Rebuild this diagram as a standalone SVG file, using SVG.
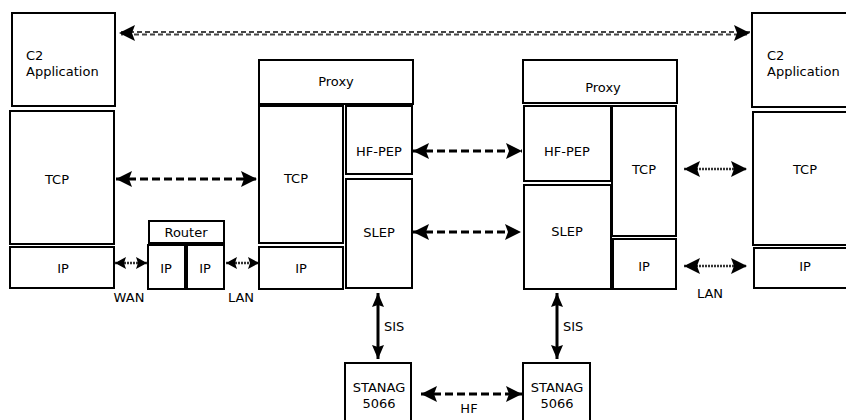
<svg xmlns="http://www.w3.org/2000/svg" width="846" height="420" viewBox="0 0 846 420">
<defs>
<style>
.box{fill:#fff;stroke:#000;stroke-width:2}
text{font-family:"DejaVu Sans","Verdana",sans-serif;font-size:13px;fill:#000}
.c{text-anchor:middle}
.dash{stroke:#000;stroke-width:3;stroke-dasharray:8 4;fill:none}
.dot{stroke:#333;stroke-width:2.5;stroke-dasharray:2 1;fill:none}
.solid{stroke:#000;stroke-width:3;fill:none}
</style>
<marker id="big" viewBox="0 0 16 16" refX="16" refY="8" markerWidth="16" markerHeight="16" markerUnits="userSpaceOnUse" orient="auto-start-reverse">
<path d="M0,0 L16,8 L0,16 L3,8 Z" fill="#000"/>
</marker>
<marker id="mid" viewBox="0 0 14 12" refX="14" refY="6" markerWidth="14" markerHeight="12" markerUnits="userSpaceOnUse" orient="auto-start-reverse">
<path d="M0,0 L14,6 L0,12 L2,6 Z" fill="#000"/>
</marker>
<marker id="small" viewBox="0 0 11 12" refX="11" refY="6" markerWidth="11" markerHeight="12" markerUnits="userSpaceOnUse" orient="auto-start-reverse">
<path d="M0,0 L11,6 L0,12 L2,6 Z" fill="#000"/>
</marker>
</defs>
<rect width="846" height="420" fill="#fff"/>

<g id="connectors">
<line x1="121" y1="32" x2="750" y2="32" stroke="#444" stroke-width="2" stroke-dasharray="5 3"/>
<line x1="121" y1="34.5" x2="750" y2="34.5" stroke="#444" stroke-width="2" stroke-dasharray="5 3" stroke-dashoffset="3"/>
<line x1="119" y1="33" x2="750" y2="33" stroke="none" marker-start="url(#big)" marker-end="url(#big)"/>
<line x1="116" y1="179" x2="257" y2="179" class="dash" marker-start="url(#big)" marker-end="url(#big)"/>
<line x1="413" y1="151" x2="522" y2="151" class="dash" stroke-dasharray="10 5" marker-start="url(#big)" marker-end="url(#big)"/>
<line x1="413" y1="232" x2="521" y2="232" class="dash" stroke-dasharray="10 5" marker-start="url(#big)" marker-end="url(#big)"/>
<line x1="115" y1="263" x2="147" y2="263" class="dot" marker-start="url(#small)" marker-end="url(#small)"/>
<line x1="226" y1="263" x2="259" y2="263" class="dot" marker-start="url(#small)" marker-end="url(#small)"/>
<line x1="684" y1="169" x2="747" y2="169" class="dot" marker-start="url(#big)" marker-end="url(#big)"/>
<line x1="684" y1="266" x2="747" y2="266" class="dot" marker-start="url(#big)" marker-end="url(#big)"/>
<line x1="378" y1="293" x2="378" y2="359" class="solid" marker-start="url(#mid)" marker-end="url(#mid)"/>
<line x1="557" y1="293" x2="557" y2="359" class="solid" marker-start="url(#mid)" marker-end="url(#mid)"/>
<line x1="421" y1="394" x2="522" y2="394" class="dash" stroke-dasharray="7 3" marker-start="url(#big)" marker-end="url(#big)"/>
</g>

<g id="c2-left"><rect class="box" x="12" y="13" width="103" height="93"/><text x="26" y="60">C2</text><text x="26" y="76">Application</text></g>
<g id="tcp-left"><rect class="box" x="10" y="111" width="104" height="133"/><text class="c" x="57" y="184">TCP</text></g>
<g id="ip-left"><rect class="box" x="10" y="247" width="104" height="41"/><text class="c" x="63" y="273">IP</text></g>

<g id="router"><rect class="box" x="149" y="221" width="75" height="22"/><text class="c" x="186" y="237">Router</text></g>
<g id="router-ip1"><rect class="box" x="148" y="245" width="37" height="44"/><text class="c" x="166" y="273">IP</text></g>
<g id="router-ip2"><rect class="box" x="187" y="245" width="37" height="44"/><text class="c" x="205" y="273">IP</text></g>
<g id="wan-label"><text class="c" x="129" y="302">WAN</text></g>
<g id="lan-label-left"><text class="c" x="241" y="302">LAN</text></g>

<g id="proxy-left"><rect class="box" x="259" y="60" width="154" height="44"/><text class="c" x="336" y="86">Proxy</text></g>
<g id="tcp-mid-left"><rect class="box" x="259" y="106" width="84" height="137"/><text class="c" x="296" y="183">TCP</text></g>
<g id="ip-mid-left"><rect class="box" x="259" y="247" width="84" height="42"/><text class="c" x="301" y="273">IP</text></g>
<g id="hfpep-left"><rect class="box" x="346" y="106" width="66" height="68"/><text class="c" x="379" y="156">HF-PEP</text></g>
<g id="slep-left"><rect class="box" x="346" y="179" width="66" height="109"/><text class="c" x="379" y="237">SLEP</text></g>

<g id="proxy-right"><rect class="box" x="523" y="60" width="154" height="43"/><text class="c" x="603" y="92">Proxy</text></g>
<g id="hfpep-right"><rect class="box" x="524" y="106" width="87" height="75"/><text class="c" x="567" y="156">HF-PEP</text></g>
<g id="slep-right"><rect class="box" x="524" y="185" width="87" height="104"/><text class="c" x="567" y="236">SLEP</text></g>
<g id="tcp-mid-right"><rect class="box" x="612" y="106" width="64" height="130"/><text class="c" x="644" y="174">TCP</text></g>
<g id="ip-mid-right"><rect class="box" x="613" y="239" width="63" height="50"/><text class="c" x="644" y="271">IP</text></g>
<g id="lan-label-right"><text class="c" x="710" y="298">LAN</text></g>

<g id="c2-right"><rect class="box" x="752" y="13" width="110" height="94"/><text x="767" y="60">C2</text><text x="767" y="76">Application</text></g>
<g id="tcp-right"><rect class="box" x="753" y="112" width="110" height="133"/><text class="c" x="805" y="174">TCP</text></g>
<g id="ip-right"><rect class="box" x="754" y="248" width="110" height="40"/><text class="c" x="805" y="271">IP</text></g>

<g id="sis-left"><text x="384" y="331">SIS</text></g>
<g id="sis-right"><text x="563" y="331">SIS</text></g>
<g id="stanag-left"><rect class="box" x="345" y="363" width="66" height="70"/><text class="c" x="379" y="392">STANAG</text><text class="c" x="379" y="408">5066</text></g>
<g id="stanag-right"><rect class="box" x="523" y="363" width="67" height="70"/><text class="c" x="557" y="392">STANAG</text><text class="c" x="557" y="408">5066</text></g>
<g id="hf-label"><text class="c" x="469" y="413">HF</text></g>
</svg>
